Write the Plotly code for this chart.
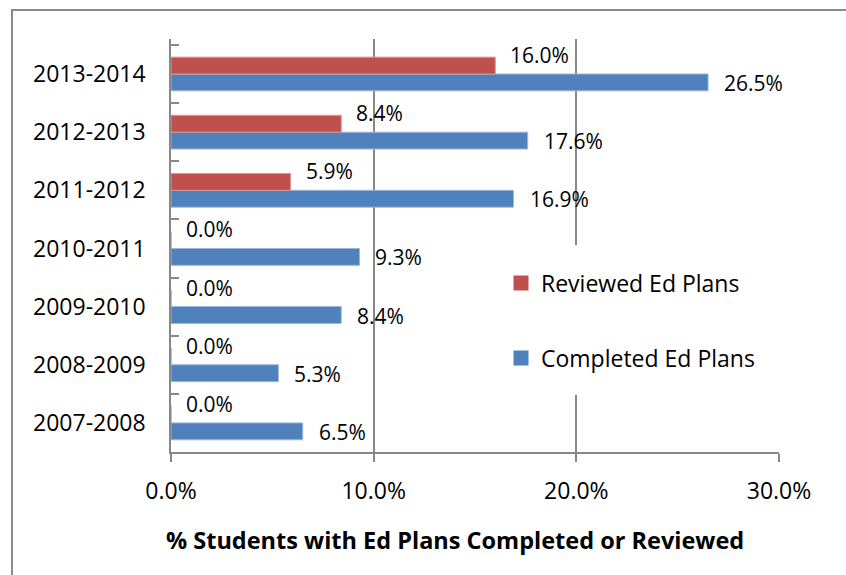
import plotly.graph_objects as go

categories = ["2007-2008", "2008-2009", "2009-2010", "2010-2011",
              "2011-2012", "2012-2013", "2013-2014"]
completed = [6.5, 5.3, 8.4, 9.3, 16.9, 17.6, 26.5]
reviewed = [0.0, 0.0, 0.0, 0.0, 5.9, 8.4, 16.0]
x_ticks = [0, 10, 20, 30]
x_tick_labels = ["0.0%", "10.0%", "20.0%", "30.0%"]

W, H = 846, 575
ML, MR, MT, MB = 171, 67, 39, 123
PW, PH = W - ML - MR, H - MT - MB

def px_x(p):
    return (p - ML) / PW

def px_y(p):
    return (H - MB - p) / PH

FONT = "Open Sans, Liberation Sans, Arial, sans-serif"
GRID = "#878787"
RED = "#C0504D"
BLUE = "#4F81BD"

fig = go.Figure()
fig.add_trace(go.Bar(
    y=categories, x=completed, orientation="h", name="Completed Ed Plans",
    marker=dict(color=BLUE, line=dict(color="#9db6d8", width=1)),
    showlegend=False,
))
fig.add_trace(go.Bar(
    y=categories, x=reviewed, orientation="h", name="Reviewed Ed Plans",
    marker=dict(color=RED, line=dict(color="#d99795", width=1)),
    showlegend=False,
))
# legend entries with square swatches matching the bar colours
fig.add_trace(go.Scatter(
    x=[None], y=[None], mode="markers", name="Reviewed Ed Plans",
    marker=dict(symbol="square", size=15, color=RED), legend="legend",
))
fig.add_trace(go.Scatter(
    x=[None], y=[None], mode="markers", name="Completed Ed Plans",
    marker=dict(symbol="square", size=15, color=BLUE), legend="legend2",
))

annotations = []
for cat, c, r in zip(categories, completed, reviewed):
    annotations.append(dict(x=c, y=cat, xref="x", yref="y", text=f"{c:.1f}%",
                            showarrow=False, xanchor="left", yanchor="middle",
                            xshift=14, yshift=-9,
                            font=dict(family=FONT, size=21, color="#000")))
    annotations.append(dict(x=r, y=cat, xref="x", yref="y", text=f"{r:.1f}%",
                            showarrow=False, xanchor="left", yanchor="middle",
                            xshift=13, yshift=19,
                            font=dict(family=FONT, size=21, color="#000")))

annotations.append(dict(
    x=px_x(455), y=px_y(540), xref="paper", yref="paper",
    text="<b>% Students with Ed Plans Completed or Reviewed</b>",
    showarrow=False, xanchor="center", yanchor="middle",
    font=dict(family=FONT, size=23.5, color="#000")))

shapes = [
    # chart border (only top and left edges are visible in the frame)
    dict(type="rect", xref="paper", yref="paper",
         x0=px_x(12), x1=px_x(W + 20), y0=px_y(H + 20), y1=px_y(10),
         line=dict(color="#8a8a8a", width=2), fillcolor="rgba(0,0,0,0)",
         layer="below"),
    # legend background hides the gridline behind it
    dict(type="rect", xref="paper", yref="paper",
         x0=px_x(510), x1=px_x(765), y0=px_y(395), y1=px_y(245),
         line=dict(width=0), fillcolor="white", layer="above"),
]

fig.update_layout(
    width=W, height=H,
    margin=dict(l=ML, r=MR, t=MT, b=MB, pad=0),
    paper_bgcolor="white", plot_bgcolor="white",
    barmode="group", bargap=0.42, bargroupgap=0,
    font=dict(family=FONT, size=23, color="#000"),
    showlegend=True,
    legend=dict(x=px_x(501), y=px_y(283), xanchor="left", yanchor="middle",
                bgcolor="rgba(0,0,0,0)", font=dict(family=FONT, size=23),
                borderwidth=0),
    legend2=dict(x=px_x(501), y=px_y(358), xanchor="left", yanchor="middle",
                 bgcolor="rgba(0,0,0,0)", font=dict(family=FONT, size=23),
                 borderwidth=0),
    annotations=annotations,
    shapes=shapes,
)

fig.update_xaxes(
    range=[0, 30], tickvals=x_ticks, ticktext=x_tick_labels,
    showgrid=True, gridcolor=GRID, gridwidth=1.5,
    showline=True, linecolor=GRID, linewidth=1.5,
    ticks="outside", ticklen=8, tickcolor=GRID, tickwidth=1.5,
    tickfont=dict(family=FONT, size=23, color="#000"),
    ticklabelstandoff=10, zeroline=False, fixedrange=True,
)
fig.update_yaxes(
    type="category", categoryorder="array", categoryarray=categories,
    showgrid=False, showline=True, linecolor=GRID, linewidth=1.5,
    ticks="inside", tickson="boundaries", ticklen=8, tickcolor=GRID, tickwidth=1.5,
    tickfont=dict(family=FONT, size=23, color="#000"),
    ticklabelstandoff=19, fixedrange=True,
)

fig.write_html("out.html",
               config={"displayModeBar": False},
               post_script="document.body.style.margin='0';"
                           "document.body.style.padding='0';")
